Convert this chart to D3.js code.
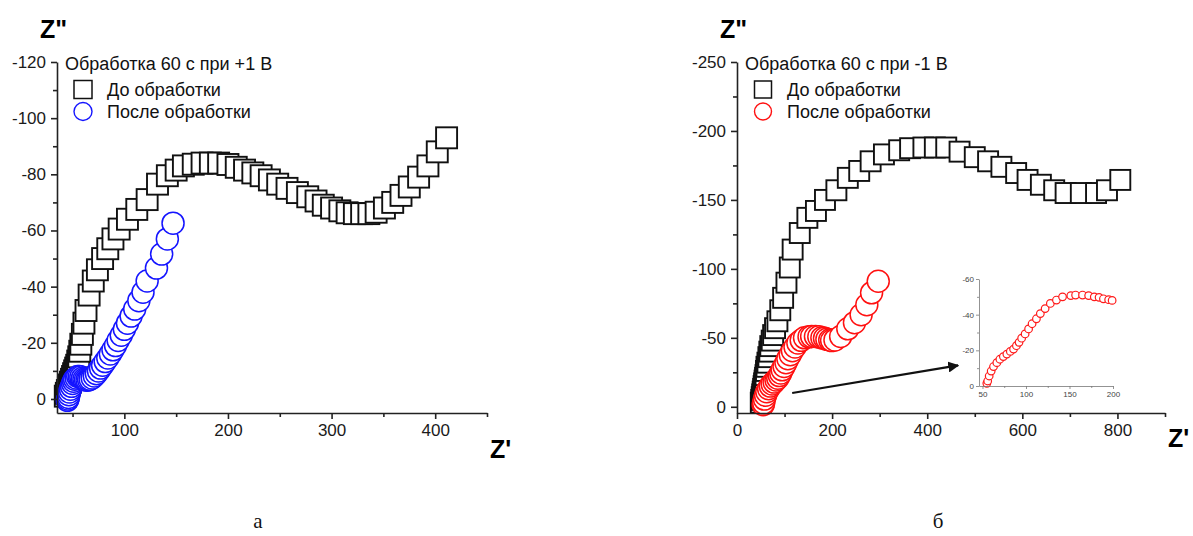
<!DOCTYPE html>
<html>
<head>
<meta charset="utf-8">
<script src="https://cdn.jsdelivr.net/npm/d3@7"></script>
<style>
  body { margin: 0; background: #fff; }
  svg { display: block; font-family: Arial, "Liberation Sans", sans-serif; }
</style>
</head>
<body>
<div id="chart"></div>
<script>
// impedance spectra, treatment 60 s at +1 V (Z', Z'' in Ohm)
const plusBeforeRe = [43, 44, 45, 46, 47, 48, 49, 50, 51, 52, 53, 54, 55, 56, 57, 58, 59.5, 61, 63, 66,
  70, 74, 79, 84, 89, 95, 103, 112, 122, 132, 141.5, 150, 157, 166.5, 175, 183, 191, 200, 208, 216,
  224, 232, 240, 248, 257, 267, 277, 285, 292, 300, 308, 315, 322, 329, 336, 343, 351, 359, 367, 375,
  384, 393, 402, 411];
const plusBeforeIm = [-1, -2, -3, -4, -5, -6, -7, -8, -9, -10, -11, -12, -13.5, -15, -17, -19.5, -23, -27, -31.5, -37,
  -42, -46, -50, -53.5, -57, -60.5, -64, -67.5, -71, -76.5, -79.5, -81.5, -83, -83.6, -84, -84, -84, -83.5, -82.5, -81.5,
  -80.5, -79.5, -78, -76.5, -75, -73.5, -72, -70.5, -69, -68, -67, -66.3, -66, -66, -66, -66.5, -68, -70, -72.5, -75.5,
  -79, -83, -88, -93];
const plusAfterRe = [45, 45.5, 46, 46.5, 47, 48, 49, 50, 51, 52, 53.5, 55, 56.5, 58, 59.5, 61, 62.5, 64, 65.5, 67,
  69, 71, 73, 75, 77, 79, 81.5, 84, 86.5, 89, 91.5, 94, 97, 100, 103, 106.5, 110, 114, 118, 122,
  131, 136, 141.5, 147];
const plusAfterIm = [0.5, 0, -0.5, -1.5, -2.5, -3.5, -4.5, -5.5, -6.3, -7, -7.5, -8, -8, -7.8, -7.4, -7, -6.8, -6.7, -6.8, -7,
  -7.5, -8.2, -9, -10, -11, -12, -13.3, -14.6, -16, -17.5, -19, -20.8, -22.7, -24.8, -27, -29.5, -32, -35, -38, -42,
  -46.6, -51.6, -57, -62.6];

// treatment 60 s at -1 V
const minusBeforeRe = [50, 51, 52, 53, 54, 55, 56, 57, 58, 59, 60, 61, 62, 64, 66, 68, 70, 73, 76, 80,
  85, 91, 97, 104, 111, 117, 132, 148, 166, 185, 209, 233, 257, 281, 309, 341, 364, 392, 416, 440,
  468, 500, 528, 556, 587, 611, 639, 667, 691, 723, 755, 778, 806];
const minusBeforeIm = [-3, -5, -7, -9, -11, -13, -15, -17, -19, -21, -23, -26, -29, -32, -36, -40, -44, -48, -52, -57,
  -62, -70, -79, -90, -101, -114, -126, -137, -142, -150, -157, -166, -171, -178, -183, -186, -187.5, -188, -188, -188,
  -185, -181, -178, -174, -169.5, -164.5, -161, -157, -155, -155, -155, -157, -164.5];
const minusAfterRe = [55, 56, 57.7, 60, 62.7, 66.5, 70, 74, 78, 82, 85.7, 89, 92, 95, 99, 103, 107, 112, 116.5, 122,
  128, 135, 142, 151.5, 157, 165, 172, 178.5, 184, 189, 195, 199, 206, 218, 233, 247, 261, 273, 283, 297];
const minusAfterIm = [-1.5, -2.8, -5.6, -8.4, -10.9, -13.1, -15, -16.5, -17.9, -19.4, -20.7, -22.6, -24.5, -26.8, -29.2, -32, -34.9, -37.7, -40.6, -43.4,
  -46.3, -48.2, -50, -50.7, -51, -51, -50.7, -50, -49.7, -48.9, -48.4, -48, -48.5, -51, -56.5, -61, -66.7, -74, -82.6, -91];

// axis ticks
const plusXTicks = [100, 200, 300, 400];
const plusXMinor = [50, 150, 250, 350, 450];
const plusYTicks = [-120, -100, -80, -60, -40, -20, 0];
const plusYMinor = [-110, -90, -70, -50, -30, -10];
const minusXTicks = [0, 200, 400, 600, 800];
const minusXMinor = [100, 300, 500, 700, 900];
const minusYTicks = [-250, -200, -150, -100, -50, 0];
const minusYMinor = [-225, -175, -125, -75, -25];
const insetXTicks = [50, 100, 150, 200];
const insetXMinor = [75, 125, 175];
const insetYTicks = [-60, -40, -20, 0];
const insetYMinor = [-50, -30, -10];

// arrow from the low-Z' region to the inset (data units of the right panel)
const arrowFrom = [116, -10];
const arrowTo = [465, -30];

const zip = (re, im) => re.map((d, i) => ({ re: d, im: im[i] }));

const W = 1193, H = 536;
const svg = d3.select("#chart").append("svg")
  .attr("width", W)
  .attr("height", H)
  .attr("viewBox", `0 0 ${W} ${H}`);

svg.append("defs").append("marker")
  .attr("id", "arrowhead")
  .attr("viewBox", "0 0 10 10")
  .attr("refX", 9).attr("refY", 5)
  .attr("markerWidth", 5).attr("markerHeight", 5)
  .attr("orient", "auto")
  .append("path")
  .attr("d", "M0,0 L10,5 L0,10 z")
  .attr("fill", "#111");

function drawAxes(g, x, y, o) {
  const xa = g.append("g").attr("transform", `translate(0,${o.bottom})`)
    .call(d3.axisBottom(x).tickValues(o.xTicks).tickSize(o.major).tickSizeOuter(0)
      .tickPadding(o.pad).tickFormat(d => String(d)));
  g.append("g").attr("transform", `translate(0,${o.bottom})`)
    .call(d3.axisBottom(x).tickValues(o.xMinor).tickSize(o.minor).tickFormat(""))
    .select(".domain").remove();
  const ya = g.append("g").attr("transform", `translate(${o.left},0)`)
    .call(d3.axisLeft(y).tickValues(o.yTicks).tickSize(o.major).tickSizeOuter(0)
      .tickPadding(o.pad).tickFormat(d => String(d)));
  g.append("g").attr("transform", `translate(${o.left},0)`)
    .call(d3.axisLeft(y).tickValues(o.yMinor).tickSize(o.minor).tickFormat(""))
    .select(".domain").remove();
  g.selectAll(".domain, .tick line").attr("stroke", o.color).attr("stroke-width", o.sw);
  [xa, ya].forEach(a => a.selectAll("text")
    .attr("fill", o.textColor)
    .style("font-size", o.font + "px")
    .style("font-family", "Arial, 'Liberation Sans', sans-serif"));
}

function drawSquares(g, x, y, data, size) {
  g.append("g").selectAll("rect").data(data).join("rect")
    .attr("x", d => x(d.re) - size / 2)
    .attr("y", d => y(d.im) - size / 2)
    .attr("width", size).attr("height", size)
    .attr("fill", "#fff")
    .attr("stroke", "#111")
    .attr("stroke-width", 1.9);
}

function drawCircles(g, x, y, data, r, color, sw) {
  g.append("g").selectAll("circle").data(data).join("circle")
    .attr("cx", d => x(d.re))
    .attr("cy", d => y(d.im))
    .attr("r", r)
    .attr("fill", "#fff")
    .attr("stroke", color)
    .attr("stroke-width", sw);
}

function drawPanel(p) {
  const g = svg.append("g");
  const x = d3.scaleLinear().domain(p.xDomain).range([p.left, p.right]);
  const y = d3.scaleLinear().domain(p.yDomain).range([p.bottom, p.top]);

  drawSquares(g, x, y, zip(p.beforeRe, p.beforeIm), p.square);
  drawCircles(g, x, y, zip(p.afterRe, p.afterIm), p.radius, p.color, 1.5);

  drawAxes(g, x, y, {
    bottom: p.bottom, left: p.left,
    xTicks: p.xTicks, xMinor: p.xMinor, yTicks: p.yTicks, yMinor: p.yMinor,
    major: 6, minor: 4, pad: 5, color: "#222", sw: 1.6, textColor: "#1a1a1a", font: 17
  });

  // axis titles
  g.append("text").attr("x", p.left - 17).attr("y", 38)
    .attr("font-size", 25).attr("font-weight", "bold").attr("fill", "#000").text('Z"');
  g.append("text").attr("x", p.zLabel[0]).attr("y", p.zLabel[1])
    .attr("font-size", 25).attr("font-weight", "bold").attr("fill", "#000").text("Z'");

  // legend
  const lg = g.append("g").attr("transform", `translate(${p.left + 8},0)`).attr("font-size", 18).attr("fill", "#111");
  lg.append("text").attr("x", 0).attr("y", 70).text(p.title);
  lg.append("rect").attr("x", 18 - p.legendSq / 2).attr("y", 89.5 - p.legendSq / 2)
    .attr("width", p.legendSq).attr("height", p.legendSq)
    .attr("fill", "none").attr("stroke", "#111").attr("stroke-width", 1.5);
  lg.append("text").attr("x", 42).attr("y", 95.5).text("До обработки");
  lg.append("circle").attr("cx", 18).attr("cy", 111.5).attr("r", p.legendR)
    .attr("fill", "none").attr("stroke", p.color).attr("stroke-width", 1.4);
  lg.append("text").attr("x", 42).attr("y", 117.5).text("После обработки");

  // caption
  svg.append("text").attr("x", p.caption).attr("y", 528)
    .attr("text-anchor", "middle")
    .attr("font-family", "'Liberation Serif', 'Times New Roman', serif")
    .attr("font-size", 21).attr("fill", "#111").text(p.captionText);

  return { g, x, y };
}

drawPanel({
  left: 57, right: 487, top: 62, bottom: 413,
  xDomain: [35, 450], yDomain: [5, -120],
  xTicks: plusXTicks, xMinor: plusXMinor, yTicks: plusYTicks, yMinor: plusYMinor,
  beforeRe: plusBeforeRe, beforeIm: plusBeforeIm,
  afterRe: plusAfterRe, afterIm: plusAfterIm,
  square: 21, radius: 11, color: "#1414ff", legendSq: 18, legendR: 9,
  title: "Обработка 60 с при +1 В",
  zLabel: [490, 458], caption: 258, captionText: "а"
});

const right = drawPanel({
  left: 737, right: 1165, top: 62, bottom: 413,
  xDomain: [0, 900], yDomain: [4.5, -250],
  xTicks: minusXTicks, xMinor: minusXMinor, yTicks: minusYTicks, yMinor: minusYMinor,
  beforeRe: minusBeforeRe, beforeIm: minusBeforeIm,
  afterRe: minusAfterRe, afterIm: minusAfterIm,
  square: 20, radius: 11, color: "#ff1010", legendSq: 17, legendR: 8.5,
  title: "Обработка 60 с при -1 В",
  zLabel: [1168, 447], caption: 938, captionText: "б"
});

// arrow pointing at the inset
right.g.append("line")
  .attr("x1", right.x(arrowFrom[0])).attr("y1", right.y(arrowFrom[1]))
  .attr("x2", right.x(arrowTo[0])).attr("y2", right.y(arrowTo[1]))
  .attr("stroke", "#111").attr("stroke-width", 2.2)
  .attr("marker-end", "url(#arrowhead)");

// inset: magnified high-frequency part of the -1 V curve
const inset = svg.append("g");
const ix = d3.scaleLinear().domain([46, 200]).range([979, 1113]);
const iy = d3.scaleLinear().domain([0, -60]).range([386, 279]);
drawCircles(inset, ix, iy, zip(minusAfterRe, minusAfterIm).filter(d => d.re <= 200), 3.8, "#ff1a1a", 1.2);
drawAxes(inset, ix, iy, {
  bottom: 386, left: 979,
  xTicks: insetXTicks, xMinor: insetXMinor, yTicks: insetYTicks, yMinor: insetYMinor,
  major: 3, minor: 2, pad: 2, color: "#777", sw: 0.8, textColor: "#444", font: 8
});
</script>
</body>
</html>
